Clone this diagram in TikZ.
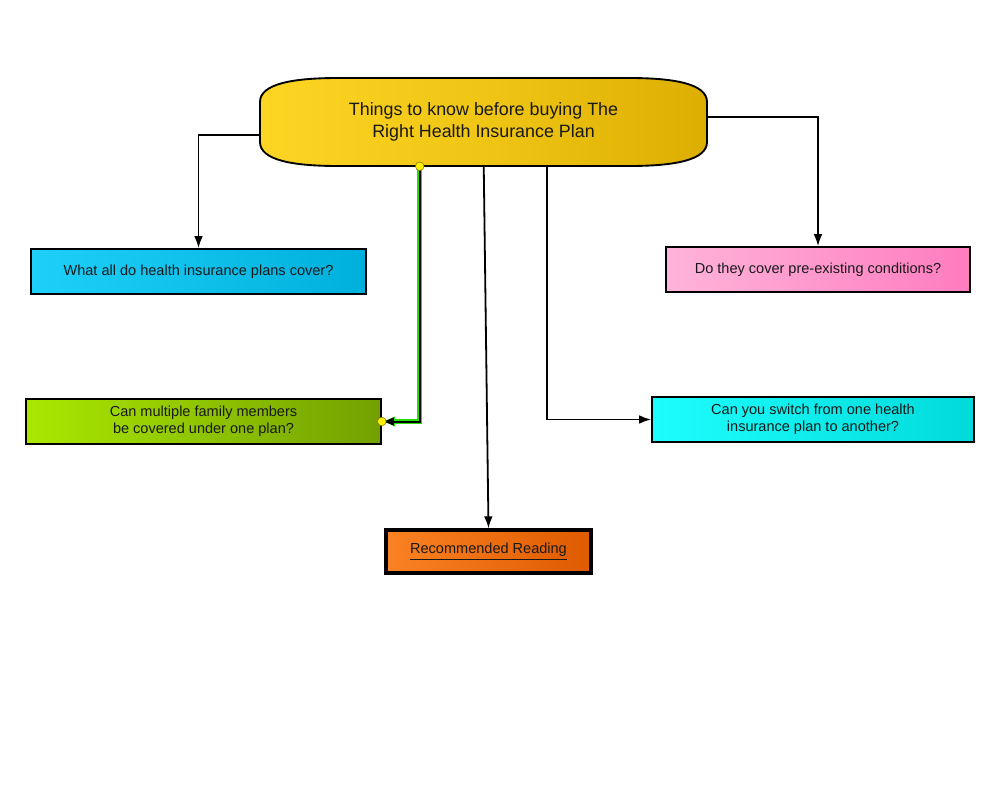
\documentclass[tikz,border=0pt]{standalone}
\usepackage{fontspec}
\setmainfont{Liberation Sans}
\usetikzlibrary{calc,arrows.meta}
\definecolor{topL}{HTML}{FDD523}
\definecolor{topR}{HTML}{DCAE00}
\definecolor{blueL}{HTML}{1ED0F9}
\definecolor{blueR}{HTML}{00B0DC}
\definecolor{pinkL}{HTML}{FFB4DA}
\definecolor{pinkR}{HTML}{FF7CBF}
\definecolor{grnL}{HTML}{AAE800}
\definecolor{grnR}{HTML}{73A000}
\definecolor{cyanL}{HTML}{1EFDFD}
\definecolor{cyanR}{HTML}{00DADA}
\definecolor{orL}{HTML}{FA8222}
\definecolor{orR}{HTML}{DF5A00}
\definecolor{glow}{HTML}{22E000}
\tikzset{
  box/.style={draw=black, line width=1.2pt, rectangle, align=center, inner sep=0pt,
    font=\fontsize{10.9pt}{13pt}\selectfont, text=black!90, shading=axis, shading angle=90},
  conn/.style={draw=black, line width=1.35pt, -{Latex[length=9pt,width=6.5pt]}},
  dot/.style={circle, fill=yellow, draw=olive!80!black, line width=0.4pt, inner sep=0pt, minimum size=6.5pt}
}
\begin{document}
\begin{tikzpicture}[x=0.75pt,y=-0.75pt]
\useasboundingbox (0,0) rectangle (1000,800);
% top shape
\shade[left color=topL, right color=topR, middle color=topL!60!topR, draw=black, line width=1.4pt]
  (260,102) .. controls (260,84) and (292,78) .. (338,78) -- (629,78)
  .. controls (675,78) and (707,84) .. (707,102) -- (707,142)
  .. controls (707,160) and (675,166) .. (629,166) -- (338,166)
  .. controls (292,166) and (260,160) .. (260,142) -- cycle;
\node[rectangle, minimum width=335.25pt, minimum height=66pt, inner sep=0pt, align=center,
  font=\fontsize{13.4pt}{17pt}\selectfont, text=black!90] (top) at (483.5,122)
  {Things to know before buying The\\Right Health Insurance Plan};

\node[box, left color=blueL, right color=blueR, minimum width=251.25pt, minimum height=33.75pt] (blue) at (198.5,271.5)
  {What all do health insurance plans cover?};
\node[box, left color=pinkL, right color=pinkR, minimum width=228pt, minimum height=33.75pt] (pink) at (818,269.5)
  {Do they cover pre-existing conditions?};
\node[box, left color=grnL, right color=grnR, minimum width=266.25pt, minimum height=33.75pt] (green) at (203.5,421.5)
  {Can multiple family members\\be covered under one plan?};
\node[box, left color=cyanL, right color=cyanR, minimum width=241.5pt, minimum height=33.75pt] (cyan) at (813,419.5)
  {Can you switch from one health\\insurance plan to another?};
\node[box, line width=2.6pt, left color=orL, right color=orR, minimum width=153.5pt, minimum height=32pt] (orange) at (488.5,551.5)
  {\underline{Recommended Reading}};

% connectors
\draw[conn] ($(top.west)+(0,13)$) -| (blue.north);
\draw[conn] ($(top.east)+(0,-5)$) -| (pink.north);
\draw[conn] ($(top.south west)+(224,0)$) -- (orange.north);
\draw[conn] ($(top.south west)+(287,0)$) |- (cyan.west);
\coordinate (gs) at ($(top.south west)+(160,0)$);
\draw[glow, line width=3.8pt, -{Latex[length=10pt,width=8pt]}] (gs) |- (green.east);
\draw[conn, line width=1.5pt] (gs) |- (green.east);
\node[dot] (d1) at (gs) {};
\node[dot] (d2) at (green.east) {};
\end{tikzpicture}
\end{document}
